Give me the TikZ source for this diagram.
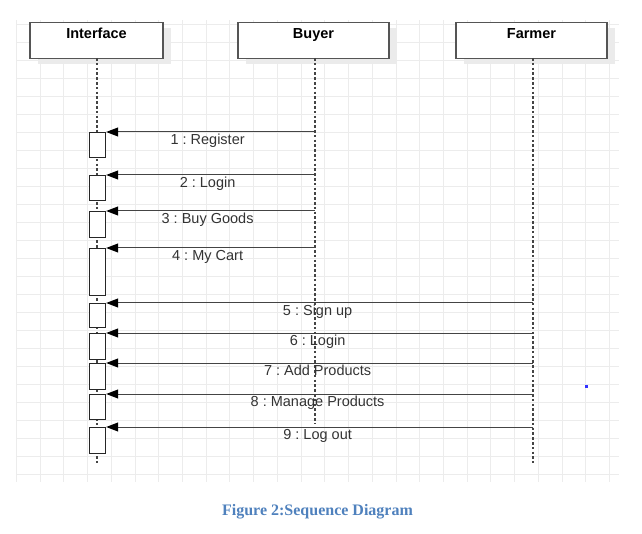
\documentclass[tikz,border=0pt]{standalone}
\usepackage{fontspec}
\setmainfont{Liberation Sans}
\newfontfamily\capfont{Liberation Serif}
\frenchspacing
\usetikzlibrary{arrows.meta,shadows}
\definecolor{gridc}{HTML}{ECECEC}
\definecolor{shadc}{HTML}{EBEBEB}
\definecolor{edgec}{HTML}{555555}
\definecolor{linec}{HTML}{444444}
\definecolor{txtc}{HTML}{333333}
\definecolor{capc}{HTML}{4F81BD}
\tikzset{
  headbox/.style={draw=edgec, line width=1.5pt, fill=white, anchor=north,
    minimum width=#1, inner sep=0pt, text height=15.5pt, text depth=20.5pt,
    font=\fontsize{14.5}{16}\selectfont\bfseries,
    drop shadow={shadow xshift=8pt, shadow yshift=-5pt, fill=shadc, opacity=1}},
  lifeline/.style={draw=linec, line width=1.4pt, dash pattern=on 2.6pt off 2.2pt},
  actbox/.style={draw=black!85, line width=1.2pt, fill=white, anchor=north west,
    minimum width=16pt, minimum height=#1, inner sep=0pt},
  msg/.style={draw=linec, line width=1pt, -{Triangle[length=12pt,width=9pt,color=black]}},
  lbl/.style={anchor=base, yshift=-12.5pt, inner sep=0pt, text=txtc,
    font=\fontsize{14.5}{16}\selectfont},
}
\begin{document}
\begin{tikzpicture}[x=1pt,y=-1pt]
\useasboundingbox (0,0) rectangle (642,534);
% grid
\foreach \k in {0,...,25} {
  \draw[gridc, line width=1pt] ({16.5+23.72*\k},20) -- ({16.5+23.72*\k},482);
  \draw[gridc, line width=1pt] (16,{24.5+18*\k}) -- (619,{24.5+18*\k});
}
% headers
\node[headbox=133pt] (hif) at (96.5,22) {Interface};
\node[headbox=151pt] (hbu) at (313.5,22) {Buyer};
\node[headbox=151pt] (hfa) at (531.5,22) {Farmer};
% lifeline ends
\coordinate (eif) at (97,463);
\coordinate (ebu) at (315,424);
\coordinate (efa) at (533,463);
\draw[lifeline] (97,58) -- (eif);
\draw[lifeline] (315,58) -- (ebu);
\draw[lifeline] (533,58) -- (efa);
% activation boxes
\node[actbox=25pt] (a1) at (89,132) {};
\node[actbox=25pt] (a2) at (89,175) {};
\node[actbox=26pt] (a3) at (89,211) {};
\node[actbox=47pt] (a4) at (89,248) {};
\node[actbox=24pt] (a5) at (89,303) {};
\node[actbox=26pt] (a6) at (89,333) {};
\node[actbox=26pt] (a7) at (89,363) {};
\node[actbox=25pt] (a8) at (89,394) {};
\node[actbox=26pt] (a9) at (89,427) {};
% message sources on lifelines
\coordinate (s1) at (315,132);
\coordinate (s2) at (315,175);
\coordinate (s3) at (315,211);
\coordinate (s4) at (315,248);
\coordinate (s5) at (533,303);
\coordinate (s6) at (533,333);
\coordinate (s7) at (533,363);
\coordinate (s8) at (533,394);
\coordinate (s9) at (533,427);
% messages
\draw[msg] (s1) -- node[lbl, xshift=-3pt] {1 : Register} (a1.north east);
\draw[msg] (s2) -- node[lbl, xshift=-3pt] {2 : Login} (a2.north east);
\draw[msg] (s3) -- node[lbl, xshift=-3pt] {3 : Buy Goods} (a3.north east);
\draw[msg] (s4) -- node[lbl, xshift=-3pt] {4 : My Cart} (a4.north east);
\draw[msg] (s5) -- node[lbl, xshift=-2pt] {5 : Sign up} (a5.north east);
\draw[msg] (s6) -- node[lbl, xshift=-2pt] {6 : Login} (a6.north east);
\draw[msg] (s7) -- node[lbl, xshift=-2pt] {7 : Add Products} (a7.north east);
\draw[msg] (s8) -- node[lbl, xshift=-2pt] {8 : Manage Products} (a8.north east);
\draw[msg] (s9) -- node[lbl, xshift=-2pt] {9 : Log out} (a9.north east);
% small blue mark
\fill[blue!80] (585,385) rectangle (587.5,387.5);
% caption
\node[anchor=base, inner sep=0pt, text=capc, font=\capfont\fontsize{16}{18}\selectfont\bfseries] (cap) at (317.5,515) {Figure 2:Sequence Diagram};
\end{tikzpicture}
\end{document}
